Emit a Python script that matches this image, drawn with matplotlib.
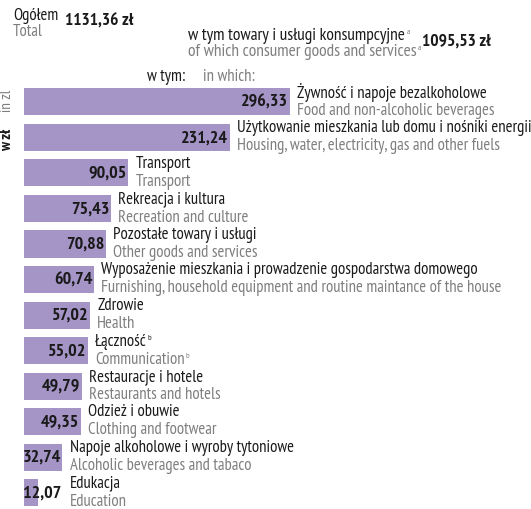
import matplotlib
matplotlib.use('Agg')
import matplotlib.pyplot as plt
import numpy as np

# dane
kategorie_pl = ['Żywność i napoje bezalkoholowe',
                'Użytkowanie mieszkania lub domu i nośniki energii',
                'Transport',
                'Rekreacja i kultura',
                'Pozostałe towary i usługi',
                'Wyposażenie mieszkania i prowadzenie gospodarstwa domowego',
                'Zdrowie',
                'Łączność',
                'Restauracje i hotele',
                'Odzież i obuwie',
                'Napoje alkoholowe i wyroby tytoniowe',
                'Edukacja']
kategorie_en = ['Food and non-alcoholic beverages',
                'Housing, water, electricity, gas and other fuels',
                'Transport',
                'Recreation and culture',
                'Other goods and services',
                'Furnishing, household equipment and routine maintance of the house',
                'Health',
                'Communication',
                'Restaurants and hotels',
                'Clothing and footwear',
                'Alcoholic beverages and tabaco',
                'Education']
wartosci = [296.33, 231.24, 90.05, 75.43, 70.88, 60.74, 57.02, 55.02, 49.79, 49.35, 32.74, 12.07]
ogolem = '1131,36 zł'
konsumpcyjne = '1095,53 zł'

W, H = 531, 509
plt.rcParams['font.family'] = ['PT Sans Narrow', 'Roboto Condensed', 'DejaVu Sans']
fig = plt.figure(figsize=(W / 100, H / 100), dpi=100)
ax = fig.add_axes([0, 0, 1, 1])

# skala łamana: powyżej 100 zł słupki są ściśnięte
c1, c2 = 0.528, 0.795


def fwd(v):
    v = np.asarray(v, dtype=float)
    return np.where(v <= 100, v,
                    np.where(v <= 200, 100 + (v - 100) * c1, 100 + 100 * c1 + (v - 200) * c2))


def inv(u):
    u = np.asarray(u, dtype=float)
    u2 = 100 + 100 * c1
    return np.where(u <= 100, u,
                    np.where(u <= u2, 100 + (u - 100) / c1, 200 + (u - u2) / c2))


ax.set_xscale('function', functions=(fwd, inv))
k = 1.16  # px na 1 zł
x0 = 24
y0, dy = 102, 35.5
ax.set_xlim(-x0 / k, float(inv((W - x0) / k)))
ax.set_ylim((H - y0) / dy, -y0 / dy)
ax.axis('off')

kolor = '#a594c6'
szary = '#7f7f7f'
czarny = '#1a1a1a'
poz = list(range(len(wartosci)))
ax.barh(poz, wartosci, height=27 / dy, color=kolor)

vmin = (63 - x0) / k
for i, v in enumerate(wartosci):
    xe = max(v, vmin)
    ax.annotate(f'{v:.2f}'.replace('.', ','), xy=(xe, i), xytext=(-2, -1), textcoords='offset pixels',
                ha='right', va='center', fontsize=13, fontweight='bold', color=czarny)
    t1 = ax.annotate(kategorie_pl[i], xy=(xe, i), xytext=(7, 9), textcoords='offset pixels',
                     ha='left', va='center', fontsize=12, color=czarny)
    t2 = ax.annotate(kategorie_en[i], xy=(xe, i), xytext=(7, -9), textcoords='offset pixels',
                     ha='left', va='center', fontsize=12, color=szary)
    if kategorie_pl[i] == 'Łączność':
        ax.annotate('b', xy=(1, 1), xycoords=t1, xytext=(0.5, -1), textcoords='offset points',
                    fontsize=6, va='top', color=czarny)
        ax.annotate('b', xy=(1, 1), xycoords=t2, xytext=(0.5, -1), textcoords='offset points',
                    fontsize=6, va='top', color=szary)


def ftext(x, y, s, **kw):
    return fig.text(x / W, 1 - y / H, s, **kw)


# nagłówek
ftext(13, 16, 'Ogółem', fontsize=12, va='center', color=czarny)
ftext(13, 32, 'Total', fontsize=12, va='center', color=szary)
ftext(65, 22, ogolem, fontsize=12.5, fontweight='bold', va='center', color=czarny)
a1 = ftext(188, 36, 'w tym towary i usługi konsumpcyjne', fontsize=12.5, va='center', color=czarny)
a2 = ftext(188, 52, 'of which consumer goods and services', fontsize=12.5, va='center', color=szary)
ax.annotate('a', xy=(1, 1), xycoords=a1, xytext=(1, -1), textcoords='offset points',
            fontsize=6, va='top', color=szary)
ax.annotate('a', xy=(1, 1), xycoords=a2, xytext=(1, -1), textcoords='offset points',
            fontsize=6, va='top', color=szary)
ftext(422, 42, konsumpcyjne, fontsize=12.5, fontweight='bold', va='center', color=czarny)
ftext(147, 77, 'w tym:', fontsize=12, va='center', color=czarny)
ftext(203, 77, 'in which:', fontsize=12, va='center', color=szary)

# jednostki
ftext(7, 101, 'in zl', fontsize=11, rotation=90, ha='center', va='center', color=szary)
ftext(7, 140, 'w zł', fontsize=11, fontweight='bold', rotation=90, ha='center', va='center', color=czarny)

plt.savefig('out.png', dpi=100)
plt.close()
